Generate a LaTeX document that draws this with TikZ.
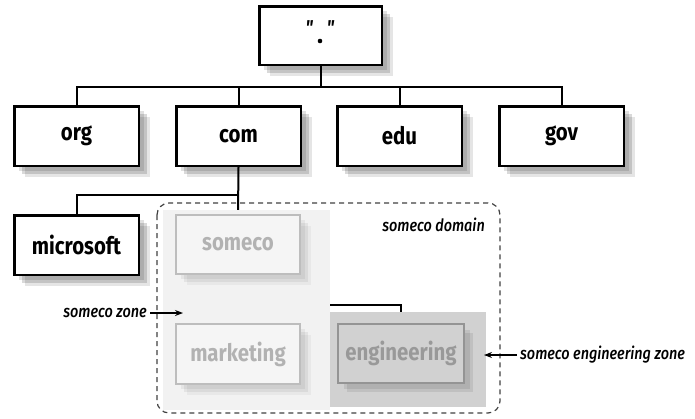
\documentclass[tikz,border=0pt]{standalone}
\usepackage{fontspec}
\setmainfont{Fira Sans}
\newfontfamily\boxfont[FakeStretch=0.85]{Fira Sans}
\newfontfamily\lblfont[FakeStretch=0.85]{Fira Sans Medium}
\usetikzlibrary{shadows,backgrounds,arrows.meta}
\tikzset{
  dnsbox/.style={draw=black, line width=2.5pt, fill=white,
    minimum width=124.5pt, minimum height=59.5pt, inner sep=0pt,
    font=\boxfont\bfseries\fontsize{24}{24}\selectfont,
    general shadow={shadow xshift=5pt, shadow yshift=-5pt, fill=black, opacity=0.12},
    general shadow={shadow xshift=8pt, shadow yshift=-8pt, fill=black, opacity=0.15},
    general shadow={shadow xshift=11pt, shadow yshift=-11pt, fill=black, opacity=0.10}},
  greybox/.style={draw=black!26, line width=2.2pt, fill=black!4,
    minimum width=124.5pt, minimum height=59.5pt, inner sep=0pt, text=black!30,
    font=\boxfont\bfseries\fontsize{24}{24}\selectfont,
    general shadow={shadow xshift=5pt, shadow yshift=-5pt, fill=black, opacity=0.05},
    general shadow={shadow xshift=8pt, shadow yshift=-8pt, fill=black, opacity=0.06},
    general shadow={shadow xshift=11pt, shadow yshift=-11pt, fill=black, opacity=0.04}},
  engbox/.style={draw=black!42, line width=2.2pt, fill=black!18,
    minimum width=125.5pt, minimum height=58.5pt, inner sep=0pt, text=black!40,
    font=\boxfont\bfseries\fontsize{24}{24}\selectfont,
    general shadow={shadow xshift=6pt, shadow yshift=-6pt, fill=black, opacity=0.08},
    general shadow={shadow xshift=9pt, shadow yshift=-9pt, fill=black, opacity=0.08}},
  conn/.style={line width=2pt, draw=black},
  greyconn/.style={line width=2pt, draw=black!26},
  lbl/.style={inner sep=0pt, font=\lblfont\itshape\fontsize{17}{17}\selectfont},
  pointer/.style={line width=1.2pt, -{Stealth[length=8pt,width=6pt]}},
}
\begin{document}
\begin{tikzpicture}[x=1pt,y=-1pt]
\useasboundingbox (0,0) rectangle (695,418);
% zone shadings
\fill[black!5] (163,210) rectangle (330,410);
\fill[black!18] (330,312) rectangle (486,407);
\draw[black!75, line width=1.2pt, dash pattern=on 5pt off 4pt, rounded corners=12pt]
  (157,203) rectangle (500,413);

% nodes
\node[dnsbox, minimum width=122.5pt, minimum height=58.5pt] (root) at (320.5,35.5) {};
\node[inner sep=0pt, font=\boxfont\bfseries\itshape\fontsize{20}{20}\selectfont] (quotes) at (320,28) {"\hspace{14pt}"};
\fill (320,41) circle (2.3pt);

\node[dnsbox] (org) at (76.5,136) {org};
\node[dnsbox] (com) at (238.5,136) {com};
\node[dnsbox] (edu) at (399.5,136) {edu};
\node[dnsbox] (gov) at (561.5,136) {gov};

\node[dnsbox] (ms) at (76.5,245) {microsoft};
\node[greybox] (someco) at (238,244.5) {someco};
\node[greybox] (mkt) at (238,354) {marketing};
\node[engbox] (eng) at (401,353.5) {engineering};

% connectors
\coordinate (bus) at (0,87);
\coordinate (combus) at (0,195);
\coordinate (subbus) at (0,305);
\coordinate (split) at (328,305);
\begin{scope}[on background layer]
\draw[conn] (root.south) -- (root.south |- bus);
\draw[conn] (org.north) -- (org.north |- bus) -- (gov.north |- bus) -- (gov.north);
\draw[conn] (com.north) -- (com.north |- bus);
\draw[conn] (edu.north) -- (edu.north |- bus);
\draw[conn] (com.south) -- (someco.north);
\draw[conn] (ms.north) -- (ms.north |- combus) -- (com.south |- combus);
\draw[greyconn] (someco.south) -- (mkt.north);
\draw[greyconn] (someco.south |- subbus) -- (split);
\draw[conn] (split) -- (eng.north |- subbus) -- (eng.north);
\end{scope}

% labels
\node[lbl, anchor=east] (dom) at (485,225) {someco domain};
\node[lbl, anchor=east] (zone) at (147,313) {someco zone};
\node[lbl, anchor=west] (engzone) at (520,355) {someco engineering zone};
\coordinate (zonetip) at (183,313);
\coordinate (engtip) at (484,355);
\draw[pointer] (zone.east) ++(3,0) -- (zonetip);
\draw[pointer] (engzone.west) ++(-3,0) -- (engtip);
\end{tikzpicture}
\end{document}
